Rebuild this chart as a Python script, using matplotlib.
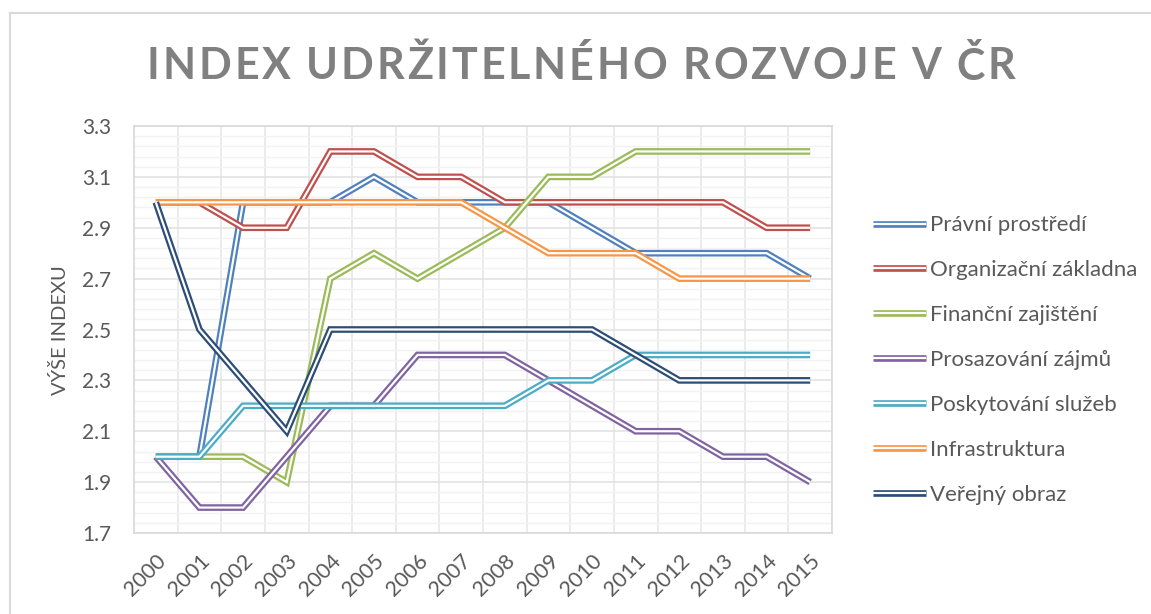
"""
Index udržitelného rozvoje v ČR - line chart with double (compound) lines.
"""
import matplotlib
matplotlib.use('Agg')
import matplotlib.pyplot as plt
import matplotlib.patheffects as pe
from matplotlib.ticker import FixedLocator, FormatStrFormatter
import numpy as np

plt.rcParams['font.family'] = ['Lato', 'DejaVu Sans']

YEARS = [str(y) for y in range(2000, 2016)]

pravni         = [2.0, 2.0, 3.0, 3.0, 3.0, 3.1, 3.0, 3.0, 3.0, 3.0, 2.9, 2.8, 2.8, 2.8, 2.8, 2.7]
organizacni    = [3.0, 3.0, 2.9, 2.9, 3.2, 3.2, 3.1, 3.1, 3.0, 3.0, 3.0, 3.0, 3.0, 3.0, 2.9, 2.9]
financni       = [2.0, 2.0, 2.0, 1.9, 2.7, 2.8, 2.7, 2.8, 2.9, 3.1, 3.1, 3.2, 3.2, 3.2, 3.2, 3.2]
prosazovani    = [2.0, 1.8, 1.8, 2.0, 2.2, 2.2, 2.4, 2.4, 2.4, 2.3, 2.2, 2.1, 2.1, 2.0, 2.0, 1.9]
poskytovani    = [2.0, 2.0, 2.2, 2.2, 2.2, 2.2, 2.2, 2.2, 2.2, 2.3, 2.3, 2.4, 2.4, 2.4, 2.4, 2.4]
infrastruktura = [3.0, 3.0, 3.0, 3.0, 3.0, 3.0, 3.0, 3.0, 2.9, 2.8, 2.8, 2.8, 2.7, 2.7, 2.7, 2.7]
verejny        = [3.0, 2.5, 2.3, 2.1, 2.5, 2.5, 2.5, 2.5, 2.5, 2.5, 2.5, 2.4, 2.3, 2.3, 2.3, 2.3]

SERIES = [
    ('Právní prostředí',     pravni,         '#4F81BD'),
    ('Organizační základna', organizacni,    '#C0504D'),
    ('Finanční zajištění',   financni,       '#9BBB59'),
    ('Prosazování zájmů',    prosazovani,    '#8064A2'),
    ('Poskytování služeb',   poskytovani,    '#4BACC6'),
    ('Infrastruktura',       infrastruktura, '#F79646'),
    ('Veřejný obraz',        verejny,        '#2C4D75'),
]

TITLE = 'INDEX UDRŽITELNÉHO ROZVOJE V ČR'
Y_TICKS = [1.7, 1.9, 2.1, 2.3, 2.5, 2.7, 2.9, 3.1, 3.3]

W, H = 1151, 614
fig = plt.figure(figsize=(W / 100, H / 100), dpi=100)
fig.patch.set_facecolor('white')

# chart frame (only top/left visible in the crop)
fig.add_artist(plt.Line2D([10 / W, 10 / W], [0, 1 - 13 / H], color='#D9D9D9', lw=1.5))
fig.add_artist(plt.Line2D([10 / W, 1], [1 - 13 / H, 1 - 13 / H], color='#D9D9D9', lw=1.5))

ax = fig.add_axes([134 / W, 1 - 533 / H, 698 / W, 407 / H])

x = np.arange(len(YEARS))
for name, vals, color in SERIES:
    line, = ax.plot(x, vals, color=color, lw=4.8, label=name,
                    solid_joinstyle='miter', solid_capstyle='butt')
    # Excel "double" compound line: coloured stroke with a white core
    line.set_path_effects([pe.Stroke(linewidth=4.8, foreground=color),
                           pe.Stroke(linewidth=1.6, foreground='white')])

ax.set_xlim(-0.5, len(YEARS) - 0.5)
ax.set_ylim(1.7, 3.3)
ax.yaxis.set_major_locator(FixedLocator(Y_TICKS))
ax.yaxis.set_minor_locator(FixedLocator(np.linspace(1.7, 3.3, 41)))
ax.yaxis.set_major_formatter(FormatStrFormatter('%.1f'))
ax.set_xticks(x)
ax.set_xticks(np.arange(-0.5, len(YEARS)), minor=True)
ax.set_xticklabels(YEARS, rotation=45, ha='right', va='top', rotation_mode='anchor')

ax.grid(axis='y', which='major', color='#E3E3E3', lw=1.2)
ax.grid(axis='y', which='minor', color='#F2F2F2', lw=1.0)
ax.grid(axis='x', which='minor', color='#E8E8E8', lw=1.2)
ax.set_axisbelow(True)

ax.tick_params(which='both', length=0)
ax.tick_params(axis='y', labelsize=15, labelcolor='#595959', pad=16.5)
ax.tick_params(axis='x', labelsize=15.5, labelcolor='#595959', pad=13)
for s in ax.spines.values():
    s.set_color('#D9D9D9')
    s.set_linewidth(1.2)

fig.text(60 / W, 1 - 330 / H, 'VÝŠE INDEXU', rotation=90, ha='center', va='center',
         fontsize=14.5, color='#595959')

# title with wide letter spacing, laid out character by character
renderer = fig.canvas.get_renderer()
title_fs = 31
title_kw = dict(fontsize=title_fs, fontweight='bold', color='#808080', va='center', ha='left')
widths = []
for ch in TITLE:
    if ch == ' ':
        widths.append(title_fs * 1.389 * 0.22)
    else:
        t = fig.text(0, 0, ch, **title_kw)
        widths.append(t.get_window_extent(renderer).width)
        t.remove()
x_left, x_right = 147, 1015
gap = (x_right - x_left - sum(widths)) / (len(TITLE) - 1)
pos = x_left
for ch, w in zip(TITLE, widths):
    if ch != ' ':
        fig.text(pos / W, 1 - 66 / H, ch, **title_kw)
    pos += w + gap

fig.legend(loc='center left', bbox_to_anchor=(873 / W, 1 - 360 / H), frameon=False,
           fontsize=16, labelcolor='#595959', handlelength=2.4, handletextpad=0.15,
           labelspacing=1.12, borderpad=0, borderaxespad=0)

plt.savefig('out.png', dpi=100, facecolor='white')
plt.close()
